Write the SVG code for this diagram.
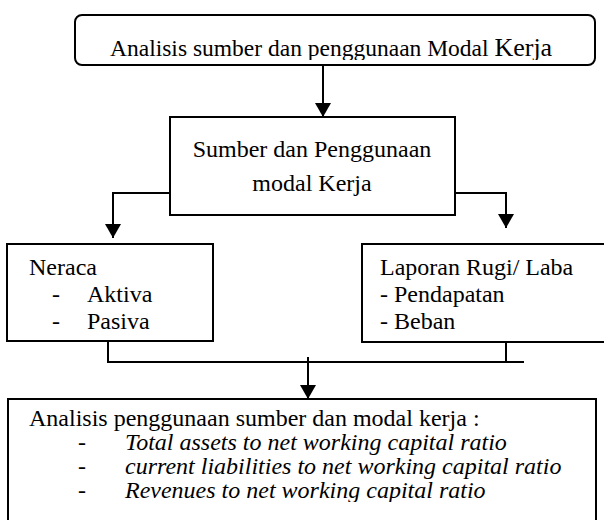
<svg xmlns="http://www.w3.org/2000/svg" width="604" height="520" viewBox="0 0 604 520">
<style>
.box{fill:#fff;stroke:#000;stroke-width:2}
text{font-family:'Liberation Serif','Times New Roman',serif;font-size:24px;fill:#000}
.i{font-style:italic}
.c{fill:none;stroke:#000;stroke-width:2}
</style>
<defs>
<marker id="ah" viewBox="0 0 14 16" refX="14" refY="8" markerWidth="14" markerHeight="16" markerUnits="userSpaceOnUse" orient="auto">
<path d="M0,0 L14,8 L0,16 Z" fill="#000"/>
</marker>
<clipPath id="cTop"><rect x="75" y="15" width="520" height="45"/></clipPath>
<clipPath id="cNer"><rect x="7" y="244" width="206" height="91"/></clipPath>
<clipPath id="cBot"><rect x="8" y="399" width="588" height="103"/></clipPath>
</defs>
<g id="connectors">
<path class="c" d="M323,65 V117" marker-end="url(#ah)"/>
<path class="c" d="M170,193 H113 V238" marker-end="url(#ah)"/>
<path class="c" d="M455,193 H506 V228" marker-end="url(#ah)"/>
<path class="c" d="M108,341 V362 H524 M506,342 V362"/>
<path class="c" d="M308,357 V399" marker-end="url(#ah)"/>
</g>
<g id="top">
<rect class="box" x="75" y="15" width="520" height="50" rx="7"/>
<text x="110" y="56" clip-path="url(#cTop)"><tspan font-size="23.5">Analisis sumber dan penggunaan Modal </tspan><tspan font-size="26">Kerja</tspan></text>
</g>
<g id="sumber">
<rect class="box" x="170" y="117" width="285" height="98"/>
<text x="312" y="157" text-anchor="middle">Sumber dan Penggunaan</text>
<text x="312" y="191" text-anchor="middle">modal Kerja</text>
</g>
<g id="neraca">
<rect class="box" x="7" y="244" width="206" height="97"/>
<g clip-path="url(#cNer)">
<text x="29" y="275">Neraca</text>
<text x="52" y="302">-</text><text x="87" y="302">Aktiva</text>
<text x="52" y="329">-</text><text x="87" y="329">Pasiva</text>
</g>
</g>
<g id="laporan">
<rect class="box" x="362" y="244" width="260" height="98"/>
<text x="380" y="275">Laporan Rugi/ Laba</text>
<text x="380" y="302">- Pendapatan</text>
<text x="380" y="329">- Beban</text>
</g>
<g id="analisis">
<rect class="box" x="8" y="399" width="588" height="140"/>
<g clip-path="url(#cBot)">
<text x="29" y="426">Analisis penggunaan sumber dan modal kerja :</text>
<text x="78" y="450">-</text><text class="i" x="125" y="450">Total assets to net working capital ratio</text>
<text x="78" y="474">-</text><text class="i" x="125" y="474">current liabilities to net working capital ratio</text>
<text x="78" y="498">-</text><text class="i" x="125" y="498">Revenues to net working capital ratio</text>
</g>
</g>
</svg>
